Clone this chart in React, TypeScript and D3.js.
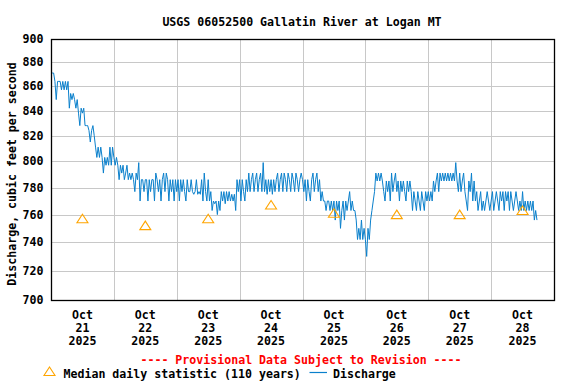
import React from "react";
import * as d3 from "d3";

const TITLE = "USGS 06052500 Gallatin River at Logan MT";
const Y_LABEL = "Discharge, cubic feet per second";
const PROVISIONAL = "---- Provisional Data Subject to Revision ----";
const LEGEND_MEDIAN = "Median daily statistic (110 years)";
const LEGEND_Q = "Discharge";

const yTicks = [700, 720, 740, 760, 780, 800, 820, 840, 860, 880, 900];
const dayLabels = ["21", "22", "23", "24", "25", "26", "27", "28"];
const monthLabel = "Oct";
const yearLabel = "2025";

// median daily statistic, at noon of each day
const medianDays = [21, 22, 23, 24, 25, 26, 27, 28];
const medianValues = [757, 752, 757, 767, 761, 760, 760, 763];

// discharge, 30-minute readings starting Oct 21 00:00
const oct21 = [871, 871, 871, 864, 849, 864, 864, 864, 857, 864, 857, 864, 857, 864, 842, 854, 849, 854, 849, 842, 849, 838, 828, 842, 838, 842, 828, 828, 828, 824, 815, 824, 828, 820, 811, 803, 811, 803, 811, 803, 791, 803, 797, 803, 797, 811, 797, 811];
const oct22 = [803, 797, 803, 797, 786, 797, 791, 797, 786, 791, 797, 786, 791, 786, 791, 786, 777, 791, 786, 799, 770, 786, 786, 777, 786, 786, 770, 786, 777, 786, 786, 770, 791, 786, 777, 786, 770, 786, 791, 777, 791, 786, 770, 786, 777, 786, 770, 786];
const oct23 = [777, 786, 770, 786, 777, 786, 777, 770, 786, 777, 777, 786, 777, 775, 777, 786, 775, 777, 775, 786, 770, 791, 777, 770, 786, 770, 777, 763, 770, 768, 770, 760, 770, 763, 777, 770, 777, 768, 777, 770, 777, 770, 775, 770, 775, 763, 786, 777];
const oct24 = [786, 770, 786, 777, 770, 786, 777, 791, 777, 786, 791, 777, 786, 791, 777, 786, 791, 777, 799, 777, 786, 775, 786, 777, 786, 775, 786, 777, 786, 791, 777, 786, 791, 777, 791, 786, 777, 791, 786, 777, 791, 786, 777, 791, 786, 777, 786, 791];
const oct25 = [786, 777, 786, 770, 786, 777, 770, 786, 791, 777, 786, 791, 777, 786, 770, 777, 770, 770, 763, 770, 770, 763, 770, 763, 770, 756, 770, 763, 770, 750, 763, 770, 756, 770, 763, 770, 777, 763, 770, 763, 763, 756, 742, 750, 742, 756, 742, 750];
const oct26 = [742, 730, 750, 742, 756, 763, 770, 777, 791, 785, 791, 785, 791, 785, 777, 770, 785, 777, 785, 770, 791, 777, 785, 791, 777, 785, 770, 785, 777, 785, 777, 770, 785, 777, 785, 777, 763, 777, 770, 763, 777, 770, 763, 777, 770, 763, 777, 770];
const oct27 = [777, 770, 777, 770, 785, 777, 785, 791, 777, 791, 785, 791, 785, 791, 785, 791, 785, 791, 785, 791, 785, 799, 785, 777, 791, 777, 785, 791, 777, 770, 763, 785, 777, 791, 770, 785, 770, 777, 763, 770, 777, 763, 770, 763, 770, 777, 770, 763];
const oct28 = [770, 777, 763, 770, 777, 770, 763, 777, 770, 777, 763, 777, 770, 777, 763, 777, 770, 763, 770, 777, 770, 763, 770, 763, 777, 763, 770, 763, 770, 763, 770, 763, 770, 756, 763, 756];

const W = 576;
const H = 384;
const M = { left: 51, right: 554, top: 39, bottom: 300 };
const FONT = "'DejaVu Sans Mono', monospace";
const FS = 11.6;
const BLUE = "#0a80cc";
const ORANGE = "#ffa500";

export default function App() {
  const start = new Date(2025, 9, 21, 0, 0);
  const end = new Date(2025, 9, 29, 0, 0);
  const x = d3.scaleTime().domain([start, end]).range([M.left, M.right]);
  const y = d3.scaleLog().domain([700, 900]).range([M.bottom, M.top]);

  const all = [...oct21, ...oct22, ...oct23, ...oct24, ...oct25, ...oct26, ...oct27, ...oct28];
  const series = all.map((v, i) => ({ t: new Date(start.getTime() + i * 30 * 60 * 1000), v }));
  const line = d3
    .line<{ t: Date; v: number }>()
    .x((d) => x(d.t))
    .y((d) => y(d.v))
    .curve(d3.curveLinear);

  const dayGrid = d3.range(1, 8).map((i) => new Date(2025, 9, 21 + i));
  const tri = (cx: number, cy: number) =>
    `M${cx - 5.5},${cy + 4}L${cx + 5.5},${cy + 4}L${cx},${cy - 4.5}Z`;

  return (
    <div style={{ position: "absolute", left: 0, top: 0 }}>
      <svg width={W} height={H} style={{ display: "block", background: "#fff" }} fontFamily={FONT} fontWeight="bold" fontSize={FS}>
        <rect x={0} y={0} width={W} height={H} fill="#fff" />
        <text x={302} y={26} textAnchor="middle">{TITLE}</text>
        {/* grid */}
        {yTicks.slice(1, -1).map((v) => (
          <line key={v} x1={M.left} x2={M.right} y1={Math.round(y(v)) + 0.5} y2={Math.round(y(v)) + 0.5} stroke="#c8c8c8" strokeWidth={1} />
        ))}
        {dayGrid.map((d, i) => (
          <line key={i} x1={Math.round(x(d)) + 0.5} x2={Math.round(x(d)) + 0.5} y1={M.top} y2={M.bottom} stroke="#c8c8c8" strokeWidth={1} />
        ))}
        {/* discharge */}
        <path d={line(series) || ""} fill="none" stroke={BLUE} strokeWidth={1} strokeLinejoin="miter" />
        {/* medians */}
        {medianDays.map((d, i) => (
          <path key={d} d={tri(x(new Date(2025, 9, d, 12)), y(medianValues[i]))} fill="none" stroke={ORANGE} strokeWidth={1.1} />
        ))}
        {/* frame */}
        <rect x={M.left + 0.5} y={M.top + 0.5} width={M.right - M.left} height={M.bottom - M.top} fill="none" stroke="#000" strokeWidth={1.3} />
        {/* y ticks */}
        {yTicks.map((v) => (
          <text key={v} x={43.5} y={y(v) + 4} textAnchor="end">{v}</text>
        ))}
        <text transform={`translate(16,174) rotate(-90)`} textAnchor="middle">{Y_LABEL}</text>
        {/* x labels */}
        {dayLabels.map((lab, i) => {
          const cx = x(new Date(2025, 9, 21 + i, 12));
          return (
            <g key={lab}>
              <text x={cx} y={318.8} textAnchor="middle">{monthLabel}</text>
              <text x={cx} y={331.8} textAnchor="middle">{lab}</text>
              <text x={cx} y={345} textAnchor="middle">{yearLabel}</text>
            </g>
          );
        })}
        <text x={301} y={363.5} textAnchor="middle" fill="#ff0000">{PROVISIONAL}</text>
        {/* legend */}
        <path d={tri(49.5, 371.5)} fill="none" stroke={ORANGE} strokeWidth={1.1} />
        <text x={63.5} y={378}>{LEGEND_MEDIAN}</text>
        <line x1={309.5} x2={327} y1={372.5} y2={372.5} stroke={BLUE} strokeWidth={1.2} />
        <text x={333} y={378}>{LEGEND_Q}</text>
      </svg>
    </div>
  );
}
